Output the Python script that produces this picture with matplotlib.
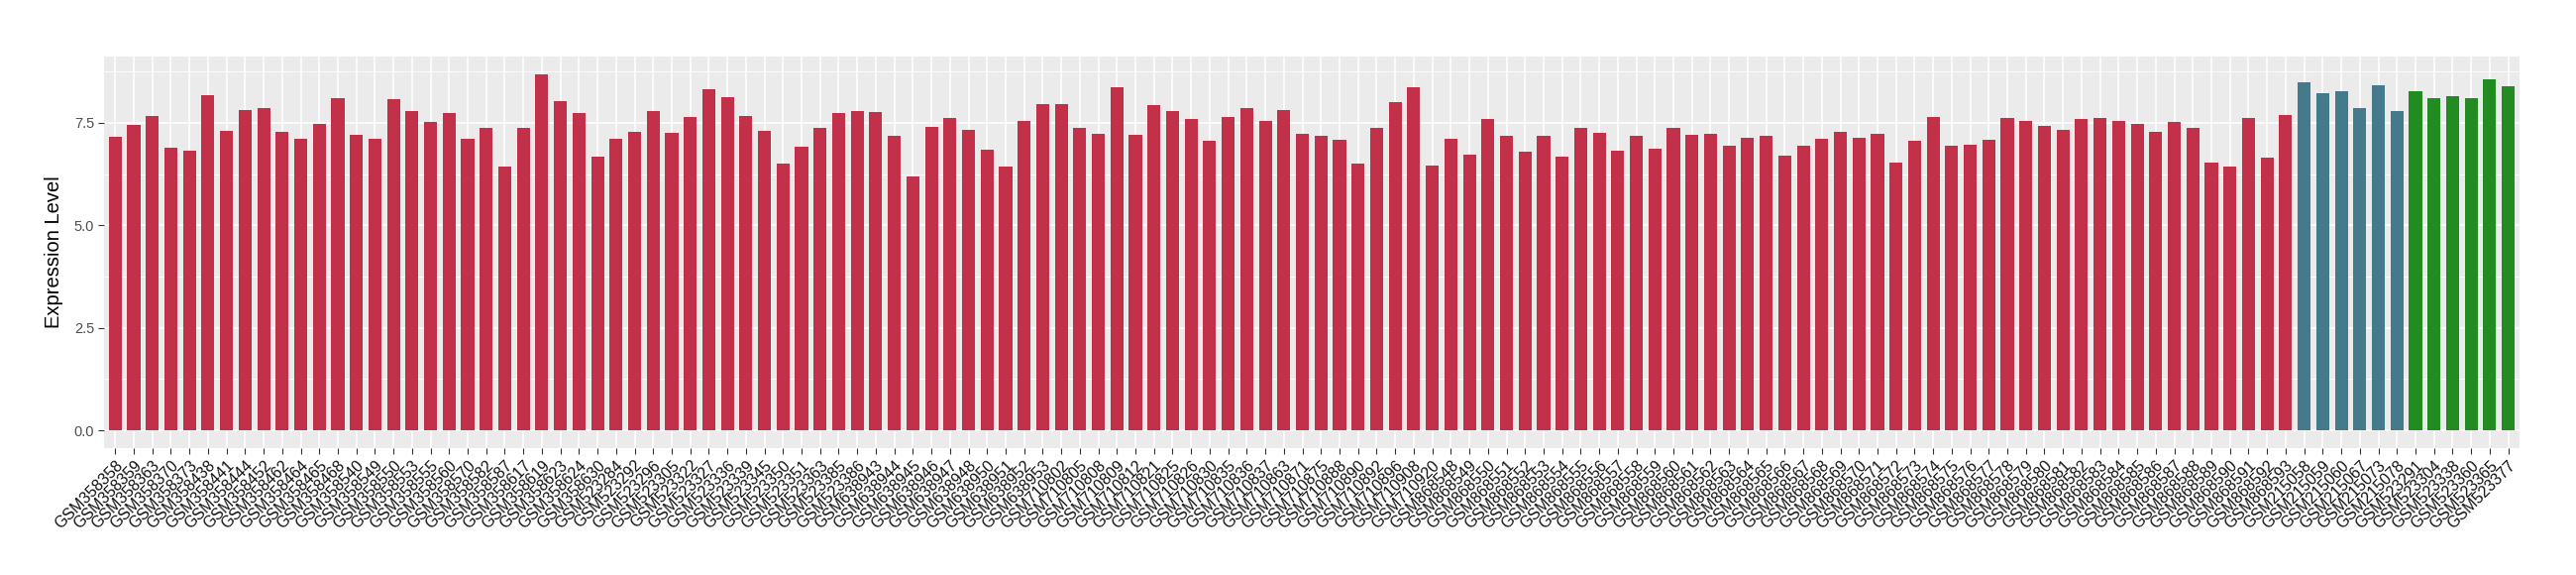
import numpy as np
import matplotlib
matplotlib.use("Agg")
import matplotlib.pyplot as plt

plt.rcParams["font.family"] = ["Liberation Sans", "DejaVu Sans"]

# sample ids per group
group1_samples = [
    "GSM358358", "GSM358359", "GSM358363", "GSM358370", "GSM358373", "GSM358438",
    "GSM358441", "GSM358444", "GSM358452", "GSM358462", "GSM358464", "GSM358465",
    "GSM358468", "GSM358540", "GSM358549", "GSM358550", "GSM358553", "GSM358555",
    "GSM358560", "GSM358570", "GSM358582", "GSM358587", "GSM358617", "GSM358619",
    "GSM358623", "GSM358624", "GSM358630",
    "GSM523284", "GSM523292", "GSM523296", "GSM523305", "GSM523322", "GSM523327",
    "GSM523336", "GSM523339", "GSM523345", "GSM523350", "GSM523351", "GSM523363",
    "GSM523385", "GSM523386",
    "GSM638943", "GSM638944", "GSM638945", "GSM638946", "GSM638947", "GSM638948",
    "GSM638950", "GSM638951", "GSM638952", "GSM638953",
    "GSM710802", "GSM710805", "GSM710808", "GSM710809", "GSM710812", "GSM710821",
    "GSM710825", "GSM710826", "GSM710830", "GSM710835", "GSM710836", "GSM710837",
    "GSM710863", "GSM710871", "GSM710875", "GSM710888", "GSM710890", "GSM710892",
    "GSM710896", "GSM710908", "GSM710920",
] + ["GSM8685%02d" % i for i in range(48, 94)]
group2_samples = ["GSM215058", "GSM215059", "GSM215060", "GSM215067", "GSM215073", "GSM215078"]
group3_samples = ["GSM523291", "GSM523304", "GSM523338", "GSM523360", "GSM523365", "GSM523377"]

group1_values = [
    7.16, 7.45, 7.67, 6.90, 6.82, 8.18, 7.31, 7.81, 7.86, 7.28, 7.11, 7.48,
    8.10, 7.21, 7.11, 8.08, 7.79, 7.52, 7.74, 7.11, 7.38, 6.44, 7.38, 8.69,
    8.03, 7.74, 6.68,
    7.11, 7.28, 7.79, 7.26, 7.65, 8.32, 8.13, 7.67, 7.31, 6.51, 6.92, 7.38,
    7.74, 7.79,
    7.77, 7.19, 6.19, 7.40, 7.62, 7.33, 6.85, 6.44, 7.55, 7.96,
    7.96, 7.38, 7.23, 8.37, 7.21, 7.94, 7.79, 7.60, 7.06, 7.65, 7.86, 7.55,
    7.81, 7.23, 7.19, 7.09, 6.51, 7.38, 8.01, 8.37, 6.46,
    7.11, 6.73, 7.60, 7.19, 6.80, 7.19, 6.68, 7.38, 7.26, 6.82, 7.19, 6.87,
    7.38, 7.21, 7.23, 6.94, 7.14, 7.19, 6.70, 6.94, 7.11, 7.28, 7.14, 7.23,
    6.53, 7.06, 7.65, 6.94, 6.97, 7.09, 7.62, 7.55, 7.43, 7.33, 7.60, 7.62,
    7.55, 7.48, 7.28, 7.52, 7.38, 6.53, 6.44, 7.62, 6.65, 7.69,
]
group2_values = [8.49, 8.23, 8.27, 7.86, 8.42, 7.79]
group3_values = [8.27, 8.10, 8.15, 8.10, 8.56, 8.40]

group_colors = ["#C23049", "#447A8C", "#228B22"]

samples = group1_samples + group2_samples + group3_samples
values = group1_values + group2_values + group3_values
colors = ([group_colors[0]] * len(group1_values) + [group_colors[1]] * len(group2_values)
          + [group_colors[2]] * len(group3_values))

fig = plt.figure(figsize=(26, 5.8), dpi=100)
ax = fig.add_axes([0.0404, 0.2207, 0.978 - 0.0404, 0.9022 - 0.2207])

x = np.arange(len(samples))
ax.set_facecolor("#EBEBEB")
ax.set_axisbelow(True)

# minor / major grid like ggplot theme_gray
for yv in [1.25, 3.75, 6.25, 8.75]:
    ax.axhline(yv, color="white", lw=0.6, zorder=0)
for yv in [0, 2.5, 5.0, 7.5]:
    ax.axhline(yv, color="white", lw=1.1, zorder=0)
for xv in x:
    ax.axvline(xv, color="white", lw=1.1, zorder=0)

ax.bar(x, values, width=0.7, color=colors, zorder=2)

ymax = max(values)
ax.set_ylim(-0.05 * ymax, ymax * 1.05)
ax.set_xlim(-0.6, len(samples) - 1 + 0.6)
ax.set_yticks([0, 2.5, 5.0, 7.5])
ax.set_yticklabels(["0.0", "2.5", "5.0", "7.5"], fontsize=10.5, color="#4D4D4D")
ax.set_xticks(x)
ax.set_xticklabels(samples, rotation=45, ha="right", va="top",
                   rotation_mode="anchor", fontsize=11.5, color="#111111")
ax.tick_params(axis="both", length=4, width=0.8, color="#333333", pad=3)
ax.set_ylabel("Expression Level", fontsize=14.5, labelpad=8)

for s in ax.spines.values():
    s.set_visible(False)

fig.savefig("out.png", dpi=100)
